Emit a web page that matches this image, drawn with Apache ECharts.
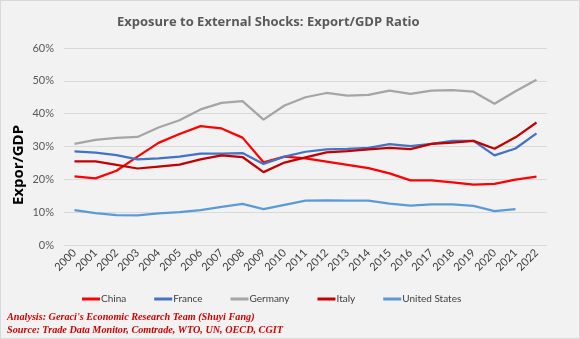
<!DOCTYPE html>
<html><head><meta charset="utf-8">
<script src="https://cdn.jsdelivr.net/npm/echarts@6/dist/echarts.min.js"></script>
<style>html,body{margin:0;padding:0;background:#fff}#c{width:580px;height:339px;box-sizing:border-box;border:1px solid #d9d9d9;background:#f2f2f2}</style>
</head><body><div id="c"></div>
<script>
const years = ['2000','2001','2002','2003','2004','2005','2006','2007','2008','2009','2010','2011','2012','2013','2014','2015','2016','2017','2018','2019','2020','2021','2022'];
const china   = [20.9,20.3,22.6,26.9,31.1,33.8,36.2,35.5,32.7,25.2,26.9,26.4,25.4,24.4,23.4,21.8,19.7,19.7,19.1,18.4,18.6,19.9,20.8];
const france  = [28.5,28.1,27.4,26.1,26.4,26.9,27.8,27.8,28.0,24.7,26.9,28.4,29.1,29.3,29.6,30.7,30.1,30.8,31.7,31.7,27.3,29.4,34.0];
const germany = [30.8,32.0,32.6,32.9,35.8,38.0,41.3,43.3,43.8,38.2,42.5,45.0,46.3,45.5,45.7,47.0,46.0,47.0,47.2,46.7,43.0,46.8,50.3];
const italy   = [25.5,25.5,24.4,23.3,23.9,24.5,26.1,27.3,26.8,22.2,25.1,26.7,28.2,28.6,29.1,29.6,29.2,30.8,31.2,31.7,29.3,32.8,37.3];
const usa     = [10.6,9.7,9.1,9.0,9.6,10.0,10.6,11.6,12.5,10.9,12.2,13.5,13.6,13.5,13.5,12.6,12.0,12.4,12.4,11.9,10.3,10.9,null];
const seriesNames = ['China','France','Germany','Italy','United States'];
const seriesColors = ['#ff0000','#4472c4','#a5a5a5','#c00000','#5b9bd5'];
const seriesData = [china, france, germany, italy, usa];

const chart = echarts.init(document.getElementById('c'));
chart.setOption({
  animation:false,
  backgroundColor:'transparent',
  title:{text:'Exposure to External Shocks: Export/GDP Ratio',left:111,top:10,
    textStyle:{fontFamily:'Open Sans',fontSize:13,fontWeight:'bold',color:'#595959'}},
  grid:{left:63,right:32,top:47,bottom:93,containLabel:false},
  xAxis:{type:'category',data:years,boundaryGap:true,
    axisLine:{show:false},axisTick:{show:false},
    axisLabel:{rotate:45,fontSize:11,color:'#404040',fontFamily:'Lato',margin:6,interval:0}},
  yAxis:{type:'value',min:0,max:60,interval:10,
    axisLabel:{formatter:'{value}%',fontSize:11,color:'#595959',fontFamily:'Lato',margin:10},
    splitLine:{lineStyle:{color:'#d9d9d9',width:1}},axisLine:{show:false},axisTick:{show:false}},
  legend:{data:seriesNames,top:288,left:76,icon:'rect',itemWidth:18,itemHeight:3,itemGap:28,
    textStyle:{fontFamily:'Lato',fontSize:10,color:'#404040',padding:[0,0,0,-4]}},
  graphic:[
    {type:'text',x:18,y:164,rotation:Math.PI/2,style:{text:'Expor/GDP',align:'center',verticalAlign:'middle',
      fontFamily:'Open Sans',fontSize:15,fontWeight:'bold',fill:'#000'}},
    {type:'text',left:6,top:311,style:{text:"Analysis: Geraci's Economic Research Team (Shuyi Fang)",
      fontFamily:'Liberation Serif',fontSize:10.2,fontWeight:'bold',fontStyle:'italic',fill:'#cc0000'}},
    {type:'text',left:6,top:324,style:{text:'Source: Trade Data Monitor, Comtrade, WTO, UN, OECD, CGIT',
      fontFamily:'Liberation Serif',fontSize:10.2,fontWeight:'bold',fontStyle:'italic',fill:'#cc0000'}}
  ],
  series: seriesNames.map((n,i)=>({name:n,type:'line',data:seriesData[i],showSymbol:false,symbol:'none',
    lineStyle:{width:2.25,color:seriesColors[i]},itemStyle:{color:seriesColors[i]}}))
});
</script></body></html>
